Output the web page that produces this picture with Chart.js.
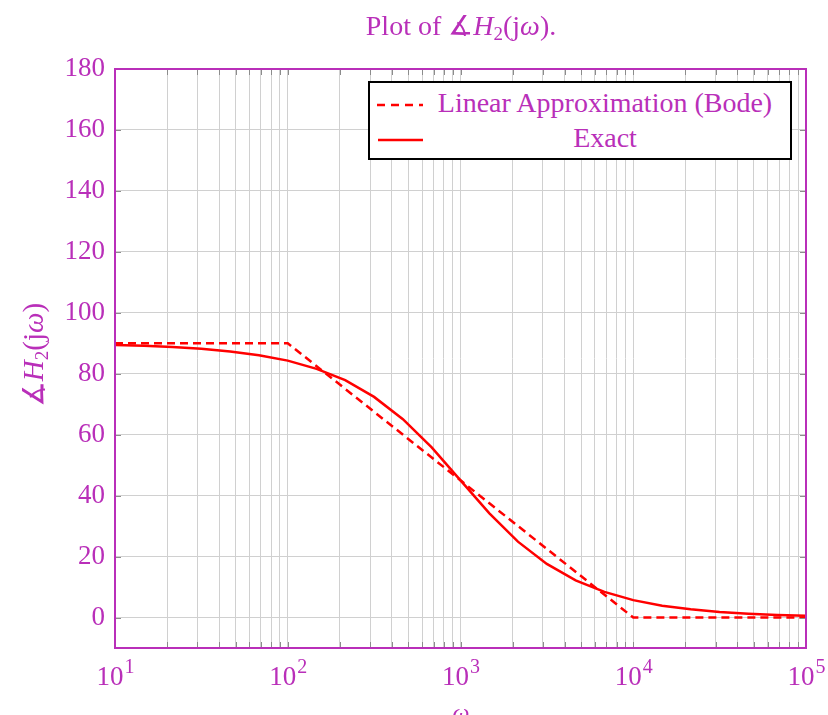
<!DOCTYPE html>
<html>
<head>
<meta charset="utf-8">
<script src="https://cdn.jsdelivr.net/npm/chart.js@4.4.0/dist/chart.umd.min.js"></script>
<style>
  html, body { margin: 0; padding: 0; background: #fff; }
  #wrap { position: relative; width: 828px; height: 715px; overflow: hidden;
          font-family: 'Liberation Serif', 'DejaVu Serif', serif; color: #b92fb9; }
  #chart { position: absolute; left: 0; top: 0; }
  #title { position: absolute; left: 211px; width: 500px; top: 9px; text-align: center; font-size: 28px; }
  #ytitle { position: absolute; left: -47px; top: 338px; width: 160px; text-align: center; font-size: 29px;
            transform: rotate(-90deg); white-space: nowrap; }
  #xtitle { position: absolute; left: 441px; width: 40px; top: 699px; text-align: center; font-size: 24px; font-style: italic; }
  #legend { position: absolute; left: 368px; top: 81px; width: 424px; height: 79px; box-sizing: border-box;
            border: 2px solid #000; background: #fff; font-size: 28px; }
  .row { position: absolute; left: 0; right: 0; height: 34px; }
  .sample { position: absolute; left: 6px; top: 16px; }
  .lbl { position: absolute; left: 56px; right: 6px; top: 0px; text-align: center; line-height: 32px; }
  i { font-style: italic; }
  sub { font-size: 19px; vertical-align: -5px; line-height: 0; }
</style>
</head>
<body>
<div id="wrap">
  <canvas id="chart" width="828" height="715"></canvas>
  <div id="title">Plot of ∡<i>H</i><sub>2</sub>(j<i>ω</i>).</div>
  <div id="ytitle">∡<i>H</i><sub>2</sub>(j<i>ω</i>)</div>
  <div id="xtitle">ω</div>
  <div id="legend">
    <div class="row" style="top:4px">
      <svg class="sample" width="48" height="4"><line x1="1" y1="2" x2="47" y2="2" stroke="#ff0000" stroke-width="2.5" stroke-dasharray="8 6"/></svg>
      <div class="lbl">Linear Approximation (Bode)</div>
    </div>
    <div class="row" style="top:39px">
      <svg class="sample" width="48" height="4"><line x1="2" y1="2" x2="47" y2="2" stroke="#ff0000" stroke-width="2.5"/></svg>
      <div class="lbl">Exact</div>
    </div>
  </div>
</div>
<script>
/* ---------- Data ---------- */
const omegaExact = [10, 14.7, 21.5, 31.6, 46.4, 68.1, 100, 147, 215, 316, 464, 681, 1000,
                    1470, 2150, 3160, 4640, 6810, 10000, 14700, 21500, 31600, 46400, 68100, 100000];
const phaseExact = [89.4, 89.2, 88.8, 88.2, 87.3, 86.1, 84.3, 81.6, 77.9, 72.4, 65.1, 55.8, 45.0,
                    34.2, 24.9, 17.6, 12.2, 8.4, 5.7, 3.9, 2.7, 1.8, 1.2, 0.8, 0.6];
const omegaBode = [10, 100, 10000, 100000];
const phaseBode = [90, 90, 0, 0];

const xTickValues = [10, 100, 1000, 10000, 100000];
const xTickExponents = ['1', '2', '3', '4', '5'];
const yTickValues = [0, 20, 40, 60, 80, 100, 120, 140, 160, 180];

/* ---------- Style ---------- */
const PURPLE = '#b92fb9';
const GRID = '#d0d0d0';
const TICK = '#8c8c8c';
const FONT = "'Liberation Serif', 'DejaVu Serif', serif";

// minor grid positions 1..9 x 10^k between the decade ticks
function logGridValues() {
    const out = [];
    for (let d = 0; d < xTickValues.length; d++) {
        const base = xTickValues[d];
        out.push(base);
        if (d < xTickValues.length - 1) {
            for (let m = 2; m <= 9; m++) out.push(base * m);
        }
    }
    return out;
}

/* ---------- Frame, inner tick marks, 10^k labels ---------- */
const framePlugin = {
    id: 'frame',
    afterDraw(chart) {
        const { ctx, chartArea: a, scales } = chart;
        ctx.save();
        ctx.strokeStyle = TICK;
        ctx.lineWidth = 1;
        ctx.beginPath();
        logGridValues().forEach(v => {
            const px = Math.round(scales.x.getPixelForValue(v)) + 0.5;
            ctx.moveTo(px, a.bottom); ctx.lineTo(px, a.bottom - 6);
            ctx.moveTo(px, a.top); ctx.lineTo(px, a.top + 6);
        });
        yTickValues.forEach(v => {
            const py = Math.round(scales.y.getPixelForValue(v)) + 0.5;
            ctx.moveTo(a.left, py); ctx.lineTo(a.left + 6, py);
            ctx.moveTo(a.right, py); ctx.lineTo(a.right - 6, py);
        });
        ctx.stroke();
        ctx.strokeStyle = PURPLE;
        ctx.lineWidth = 2;
        ctx.strokeRect(a.left, a.top, a.right - a.left, a.bottom - a.top);

        // x tick labels as 10 with a raised exponent
        ctx.fillStyle = PURPLE;
        ctx.textBaseline = 'alphabetic';
        ctx.textAlign = 'left';
        xTickValues.forEach((v, i) => {
            const px = scales.x.getPixelForValue(v);
            ctx.font = '27px ' + FONT;
            const wb = ctx.measureText('10').width;
            ctx.font = '20px ' + FONT;
            const we = ctx.measureText(xTickExponents[i]).width;
            const x0 = px - (wb + we) / 2;
            ctx.font = '27px ' + FONT;
            ctx.fillText('10', x0, a.bottom + 37);
            ctx.font = '20px ' + FONT;
            ctx.fillText(xTickExponents[i], x0 + wb + 1, a.bottom + 25);
        });
        ctx.restore();
    }
};

new Chart(document.getElementById('chart'), {
    type: 'line',
    data: {
        datasets: [{
            label: 'Linear Approximation (Bode)',
            data: omegaBode.map((w, i) => ({ x: w, y: phaseBode[i] })),
            borderColor: '#ff0000',
            borderWidth: 2.5,
            borderDash: [8, 5],
            pointRadius: 0,
            tension: 0
        }, {
            label: 'Exact',
            data: omegaExact.map((w, i) => ({ x: w, y: phaseExact[i] })),
            borderColor: '#ff0000',
            borderWidth: 2.5,
            pointRadius: 0,
            tension: 0
        }]
    },
    options: {
        responsive: false,
        animation: false,
        layout: { padding: { top: 69, right: 22, left: 0, bottom: 0 } },
        plugins: {
            legend: { display: false },
            title: { display: false },
            tooltip: { enabled: false }
        },
        scales: {
            x: {
                type: 'logarithmic',
                min: 10,
                max: 100000,
                afterBuildTicks: s => { s.ticks = logGridValues().map(v => ({ value: v })); },
                afterFit: s => { s.height = 67; s.paddingLeft = 0; s.paddingRight = 0; },
                grid: { color: GRID, lineWidth: 1, drawTicks: false },
                border: { display: false },
                ticks: { display: false }
            },
            y: {
                min: -10,
                max: 180,
                afterBuildTicks: s => { s.ticks = yTickValues.map(v => ({ value: v })); },
                afterFit: s => { s.width = 115; },
                grid: { color: GRID, lineWidth: 1, drawTicks: false },
                border: { display: false },
                ticks: {
                    padding: 10,
                    color: PURPLE,
                    font: { family: FONT, size: 27 }
                }
            }
        }
    },
    plugins: [framePlugin]
});
</script>
</body>
</html>
